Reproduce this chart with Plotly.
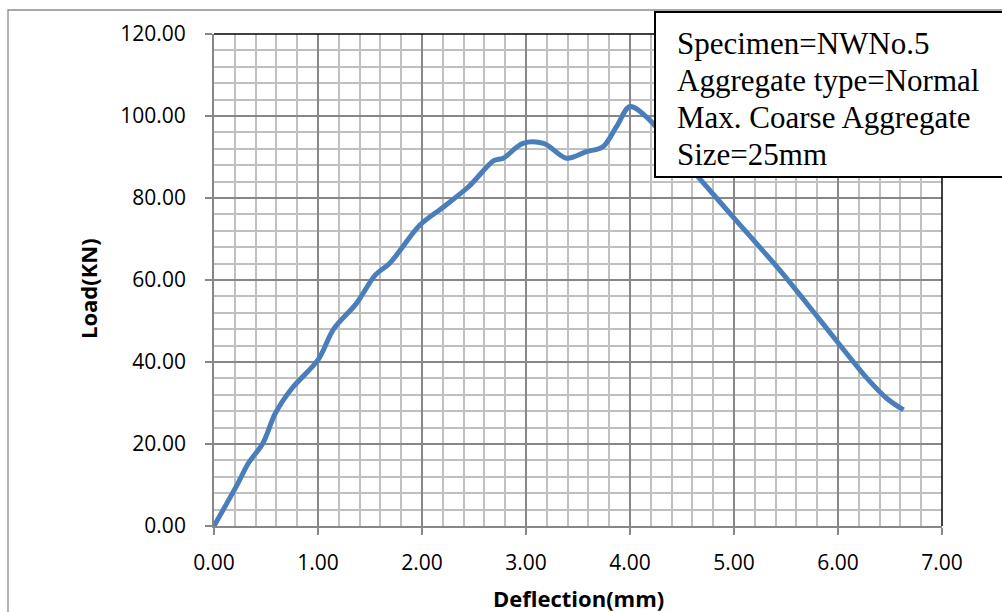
import plotly.graph_objects as go

# Load-deflection readings for specimen NWNo.5
deflection_mm = [0.00, 0.23, 0.33, 0.47, 0.59, 0.75, 1.00, 1.15, 1.37, 1.55, 1.69,
                 1.98, 2.20, 2.45, 2.69, 2.78, 2.97, 3.17, 3.39, 3.58, 3.74, 3.87,
                 4.00, 4.19, 4.40, 4.64, 4.99, 5.44, 5.80, 6.02, 6.28, 6.47, 6.63]
load_kn = [0.0, 10.4, 15.3, 20.2, 27.5, 33.6, 40.5, 48.0, 54.3, 61.2, 64.1,
           73.4, 77.7, 82.8, 89.1, 89.7, 93.3, 93.3, 89.7, 91.3, 92.5, 97.4,
           102.3, 99.0, 92.5, 85.6, 75.4, 62.4, 51.1, 44.1, 36.0, 31.1, 28.3]

x_ticks = [0, 1, 2, 3, 4, 5, 6, 7]
y_ticks = [0, 20, 40, 60, 80, 100, 120]

info_lines = ["Specimen=NWNo.5", "Aggregate type=Normal",
              "Max. Coarse Aggregate", "Size=25mm"]

W, H = 1002, 612
L, R, T, B = 214, 60, 34, 86
pw, ph = W - L - R, H - T - B


def px(x):
    return (x - L) / pw


def py(y):
    return (H - B - y) / ph


tick_font = dict(family="Open Sans, DejaVu Sans, sans-serif", size=21, color="#000000")
title_font = dict(family="Open Sans, DejaVu Sans, sans-serif", size=22, color="#000000")
major_grid = "#878787"
minor_grid = "#c0c0c0"

fig = go.Figure()
fig.add_trace(go.Scatter(
    x=deflection_mm, y=load_kn, mode="lines",
    line=dict(color="rgb(74,126,187)", width=5, shape="spline", smoothing=0.9),
    showlegend=False, hoverinfo="skip",
))

fig.update_xaxes(
    range=[0, 7], tickvals=x_ticks, ticktext=[f"{v:.2f}" for v in x_ticks],
    showgrid=True, gridcolor=major_grid, gridwidth=1.8,
    minor=dict(dtick=0.2, showgrid=True, gridcolor=minor_grid, gridwidth=1.8,
               ticks=""),
    showline=True, linecolor=major_grid, linewidth=1.8,
    ticks="outside", ticklen=7, tickcolor=major_grid, tickwidth=1.5,
    tickfont=tick_font, ticklabelstandoff=10, zeroline=False, fixedrange=True,
)
fig.update_yaxes(
    range=[0, 120], tickvals=y_ticks, ticktext=[f"{v:.2f}" for v in y_ticks],
    showgrid=True, gridcolor=major_grid, gridwidth=1.8,
    minor=dict(dtick=4, showgrid=True, gridcolor=minor_grid, gridwidth=1.8,
               ticks=""),
    showline=True, linecolor=major_grid, linewidth=1.8,
    ticks="outside", ticklen=7, tickcolor=major_grid, tickwidth=1.5,
    tickfont=tick_font, ticklabelstandoff=15, zeroline=False, fixedrange=True,
)

shapes = [
    # outer chart frame
    dict(type="rect", xref="paper", yref="paper", layer="below",
         x0=px(8), x1=px(1010), y0=py(620), y1=py(10),
         line=dict(color="#8c8c8c", width=1.3), fillcolor="rgba(0,0,0,0)"),
    # plot area top and right borders
    dict(type="line", xref="paper", yref="paper", layer="above",
         x0=0, x1=1, y0=1, y1=1, line=dict(color="#000000", width=1.5)),
    dict(type="line", xref="paper", yref="paper", layer="above",
         x0=1, x1=1, y0=0, y1=1, line=dict(color="#000000", width=1.5)),
    # specimen info box
    dict(type="rect", xref="paper", yref="paper", layer="above",
         x0=px(655), x1=px(1012), y0=py(177), y1=py(12),
         line=dict(color="#000000", width=2), fillcolor="#ffffff"),
]

annotations = []
# one annotation per line of the info box, spaced evenly
for i, line_text in enumerate(info_lines):
    annotations.append(dict(
        text=line_text, xref="paper", yref="paper",
        x=px(675), y=py(43 + 37 * i), xanchor="left", yanchor="middle",
        align="left", showarrow=False,
        font=dict(family="Liberation Serif, Times New Roman, serif", size=31,
                  color="#000000")))

annotations += [
    dict(text="<b>Deflection(mm)</b>", xref="paper", yref="paper",
         x=0.5, y=py(598), xanchor="center", yanchor="middle", showarrow=False,
         font=title_font),
    dict(text="<b>Load(KN)</b>", xref="paper", yref="paper",
         x=px(88), y=py(289), xanchor="center", yanchor="middle", showarrow=False,
         textangle=-90, font=title_font),
]

fig.update_layout(
    width=W, height=H,
    margin=dict(l=L, r=R, t=T, b=B, pad=0),
    paper_bgcolor="#ffffff", plot_bgcolor="#ffffff",
    shapes=shapes, annotations=annotations,
)

fig.write_html("out.html", config={"displayModeBar": False})
